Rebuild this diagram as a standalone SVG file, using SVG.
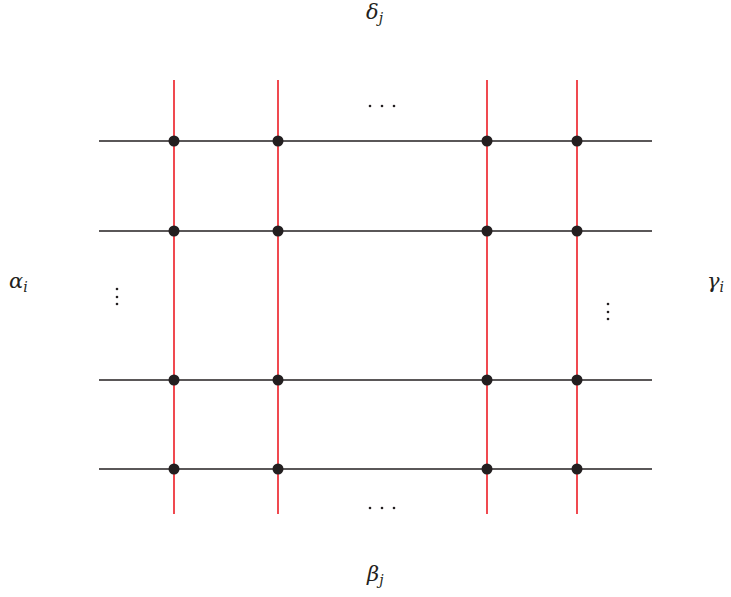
<svg xmlns="http://www.w3.org/2000/svg" width="731" height="597" viewBox="0 0 731 597">
<style>
.h{stroke:#231f20;stroke-width:1.6}
.v{stroke:#ed1c24;stroke-width:1.6}
.n{fill:#231f20}
.d{fill:#231f20}
.lbl{font-family:"DejaVu Serif","Liberation Serif",serif;font-style:italic;font-size:21px;fill:#231f20}
.sub{font-size:14px}
</style>
<rect width="731" height="597" fill="#fff"/>
<g id="connectors">
<line class="h" x1="99" y1="141" x2="652" y2="141"/>
<line class="h" x1="99" y1="231" x2="652" y2="231"/>
<line class="h" x1="99" y1="380" x2="652" y2="380"/>
<line class="h" x1="99" y1="469" x2="652" y2="469"/>
<line class="v" x1="174" y1="80" x2="174" y2="514"/>
<line class="v" x1="278" y1="80" x2="278" y2="514"/>
<line class="v" x1="487" y1="80" x2="487" y2="514"/>
<line class="v" x1="577" y1="80" x2="577" y2="514"/>
</g>
<g id="nodes">
<g id="n11"><circle class="n" cx="174" cy="141" r="5.5"/></g>
<g id="n12"><circle class="n" cx="278" cy="141" r="5.5"/></g>
<g id="n13"><circle class="n" cx="487" cy="141" r="5.5"/></g>
<g id="n14"><circle class="n" cx="577" cy="141" r="5.5"/></g>
<g id="n21"><circle class="n" cx="174" cy="231" r="5.5"/></g>
<g id="n22"><circle class="n" cx="278" cy="231" r="5.5"/></g>
<g id="n23"><circle class="n" cx="487" cy="231" r="5.5"/></g>
<g id="n24"><circle class="n" cx="577" cy="231" r="5.5"/></g>
<g id="n31"><circle class="n" cx="174" cy="380" r="5.5"/></g>
<g id="n32"><circle class="n" cx="278" cy="380" r="5.5"/></g>
<g id="n33"><circle class="n" cx="487" cy="380" r="5.5"/></g>
<g id="n34"><circle class="n" cx="577" cy="380" r="5.5"/></g>
<g id="n41"><circle class="n" cx="174" cy="469" r="5.5"/></g>
<g id="n42"><circle class="n" cx="278" cy="469" r="5.5"/></g>
<g id="n43"><circle class="n" cx="487" cy="469" r="5.5"/></g>
<g id="n44"><circle class="n" cx="577" cy="469" r="5.5"/></g>
</g>
<g id="ellipses">
<circle class="d" cx="370" cy="106" r="1.3"/><circle class="d" cx="382" cy="106" r="1.3"/><circle class="d" cx="394" cy="106" r="1.3"/>
<circle class="d" cx="370" cy="508" r="1.3"/><circle class="d" cx="382" cy="508" r="1.3"/><circle class="d" cx="394" cy="508" r="1.3"/>
<circle class="d" cx="117" cy="289" r="1.3"/><circle class="d" cx="117" cy="297" r="1.3"/><circle class="d" cx="117" cy="304" r="1.3"/>
<circle class="d" cx="608" cy="304" r="1.3"/><circle class="d" cx="608" cy="312" r="1.3"/><circle class="d" cx="608" cy="319" r="1.3"/>
</g>
<g id="labels">
<text class="lbl" x="366" y="19">δ<tspan class="sub" dy="4">j</tspan></text>
<text class="lbl" x="9" y="288">α<tspan class="sub" dy="4">i</tspan></text>
<text class="lbl" x="707" y="288">γ<tspan class="sub" dy="4">i</tspan></text>
<text class="lbl" x="367" y="581">β<tspan class="sub" dy="4">j</tspan></text>
</g>
</svg>
